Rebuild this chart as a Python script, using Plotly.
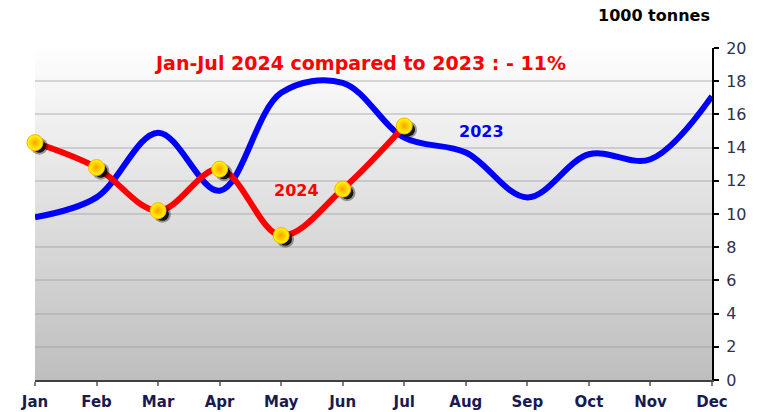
import plotly.graph_objects as go

# Monthly volumes, 1000 tonnes
months = ["Jan", "Feb", "Mar", "Apr", "May", "Jun", "Jul", "Aug", "Sep", "Oct", "Nov", "Dec"]
values_2023 = [9.8, 11.0, 14.9, 11.4, 17.3, 17.9, 14.6, 13.7, 11.0, 13.6, 13.3, 17.1]
values_2024 = [14.3, 12.8, 10.2, 12.7, 8.7, 11.5, 15.3]
y_ticks = [0, 2, 4, 6, 8, 10, 12, 14, 16, 18, 20]

x_all = list(range(len(months)))
x_2024 = x_all[:len(values_2024)]

FONT = "DejaVu Sans"

fig = go.Figure()

# 2023 line
fig.add_trace(go.Scatter(
    x=x_all, y=values_2023, mode="lines",
    line=dict(color="#0000ff", width=6, shape="spline", smoothing=1.0),
    cliponaxis=False, hoverinfo="skip", showlegend=False))

# 2024 line
fig.add_trace(go.Scatter(
    x=x_2024, y=values_2024, mode="lines",
    line=dict(color="#ff0000", width=6, shape="spline", smoothing=1.0),
    cliponaxis=False, hoverinfo="skip", showlegend=False))

# soft drop shadow behind each 2024 marker
fig.add_trace(go.Scatter(
    x=[v + 0.07 for v in x_2024], y=[v - 0.22 for v in values_2024], mode="markers",
    marker=dict(size=17, color="rgba(0,0,0,0.35)", line=dict(width=0)),
    cliponaxis=False, hoverinfo="skip", showlegend=False))
fig.add_trace(go.Scatter(
    x=[v + 0.07 for v in x_2024], y=[v - 0.22 for v in values_2024], mode="markers",
    marker=dict(size=13, color="rgba(0,0,0,0.85)", line=dict(width=0)),
    cliponaxis=False, hoverinfo="skip", showlegend=False))

# 2024 markers
fig.add_trace(go.Scatter(
    x=x_2024, y=values_2024, mode="markers",
    marker=dict(size=16, color="#ffff00",
                gradient=dict(type="radial", color="#ffa000"),
                line=dict(width=1, color="#ffb000")),
    cliponaxis=False, hoverinfo="skip", showlegend=False))

# vertical grey gradient behind the plot area; each band runs to the top so
# the next one overlaps it and no seams show between bands
shapes = []
n_bands = 80
for i in range(n_bands):
    t = (i + 0.5) / n_bands
    g = int(round(190 + (254 - 190) * t))
    shapes.append(dict(
        type="rect", xref="paper", yref="paper", layer="below",
        x0=0, x1=1, y0=i / n_bands, y1=1,
        fillcolor=f"rgb({g},{g},{g})", line=dict(width=0)))

fig.update_layout(
    width=764, height=412,
    margin=dict(l=35, r=52, t=48, b=32, autoexpand=False),
    paper_bgcolor="white",
    plot_bgcolor="rgba(0,0,0,0)",
    shapes=shapes,
    xaxis=dict(
        range=[0, 11], tickvals=x_all, ticktext=months,
        automargin=False,
        showgrid=False, zeroline=False,
        showline=True, linecolor="#404040", linewidth=2,
        ticks="outside", ticklen=4, tickcolor="#808080", tickwidth=2,
        ticklabelstandoff=3,
        tickfont=dict(family=FONT, size=15, color="#1a1a50", weight="bold"),
    ),
    yaxis=dict(
        range=[0, 20], tickvals=y_ticks, side="right",
        automargin=False,
        showgrid=True, gridcolor="rgba(160,160,160,0.4)", gridwidth=2,
        zeroline=False,
        showline=True, linecolor="#000000", linewidth=2,
        ticks="outside", ticklen=5, tickcolor="#000000", tickwidth=2,
        ticklabelstandoff=4,
        tickfont=dict(family=FONT, size=16, color="#303050"),
    ),
    annotations=[
        dict(text="<b>Jan-Jul 2024 compared to 2023 : - 11%</b>",
             xref="paper", yref="paper", x=0.48, y=0.955,
             xanchor="center", yanchor="middle", showarrow=False,
             font=dict(family=FONT, size=19, color="#ff0000")),
        dict(text="<b>1000 tonnes</b>",
             xref="paper", yref="paper", x=1.0, y=1.0, yshift=33,
             xanchor="right", yanchor="middle", showarrow=False,
             font=dict(family=FONT, size=16, color="#000000")),
        dict(text="<b>2023</b>", x=7.25, y=15.0,
             xanchor="center", yanchor="middle", showarrow=False,
             font=dict(family=FONT, size=16, color="#0000ff")),
        dict(text="<b>2024</b>", x=4.25, y=11.4,
             xanchor="center", yanchor="middle", showarrow=False,
             font=dict(family=FONT, size=16, color="#ff0000")),
    ],
)

fig.write_html("out.html")
